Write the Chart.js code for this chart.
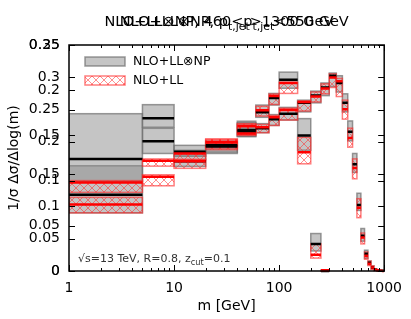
<!DOCTYPE html>
<html>
<head>
<meta charset="utf-8">
<script src="https://cdn.jsdelivr.net/npm/chart.js@4.4.0/dist/chart.umd.min.js"></script>
<style>
  html, body { margin: 0; background: #fff; }
  #wrap { width: 411px; height: 319px; position: relative; }
</style>
</head>
<body>
<div id="wrap"><canvas id="c"></canvas></div>
<script>
// bin edges in m [GeV]
const edgesA = [1, 5, 10, 20, 40, 60, 80, 100, 150, 200, 250, 300];
const edgesB = [1, 5, 10, 20, 40, 60, 80, 100, 150, 200, 250, 300, 350, 400, 450, 500,
                550, 600, 650, 700, 750, 800, 850, 900, 950, 1000];

// 460 < pt,jet < 550 GeV  (left scale 0 - 0.35)
const npA   = [0.118, 0.201, 0.170, 0.193, 0.216, 0.246, 0.268, 0.296, 0.210, 0.042, 0.000];
const npALo = [0.090, 0.182, 0.162, 0.184, 0.208, 0.238, 0.257, 0.283, 0.187, 0.031, 0.000];
const npAHi = [0.163, 0.221, 0.187, 0.201, 0.232, 0.257, 0.275, 0.308, 0.236, 0.058, 0.001];
const llA   = [0.103, 0.146, 0.170, 0.199, 0.213, 0.249, 0.271, 0.291, 0.184, 0.025, 0.001];
const llALo = [0.090, 0.132, 0.159, 0.188, 0.210, 0.240, 0.258, 0.275, 0.166, 0.020, 0.000];
const llAHi = [0.114, 0.149, 0.173, 0.204, 0.227, 0.255, 0.274, 0.292, 0.207, 0.042, 0.001];

// pt,jet > 1300 GeV  (second scale 0 - 0.25)
const npB   = [0.124, 0.169, 0.132, 0.139, 0.156, 0.158, 0.168, 0.174, 0.186, 0.194, 0.203, 0.216, 0.208,
               0.186, 0.154, 0.118, 0.073, 0.039, 0.019, 0.009, 0.004, 0.0015, 0.0008, 0.0004, 0.0002];
const npBLo = [0.099, 0.159, 0.127, 0.130, 0.149, 0.153, 0.161, 0.167, 0.176, 0.186, 0.194, 0.204, 0.198,
               0.176, 0.144, 0.109, 0.067, 0.033, 0.014, 0.007, 0.0022, 0.0005, 0.0002, 0, 0];
const npBHi = [0.174, 0.184, 0.139, 0.142, 0.164, 0.163, 0.173, 0.181, 0.189, 0.199, 0.208, 0.219, 0.216,
               0.196, 0.166, 0.130, 0.086, 0.047, 0.023, 0.011, 0.0056, 0.0025, 0.0012, 0.0006, 0.0003];
const llB   = [0.098, 0.122, 0.130, 0.143, 0.160, 0.159, 0.170, 0.178, 0.187, 0.193, 0.202, 0.214, 0.210,
               0.179, 0.147, 0.114, 0.070, 0.037, 0.017, 0.008, 0.0038, 0.0014, 0.0007, 0.0003, 0.0001];
const llBLo = [0.087, 0.116, 0.123, 0.136, 0.151, 0.153, 0.161, 0.167, 0.177, 0.187, 0.196, 0.203, 0.193,
               0.168, 0.137, 0.102, 0.059, 0.030, 0.013, 0.006, 0.002, 0.0005, 0.0002, 0, 0];
const llBHi = [0.100, 0.124, 0.131, 0.146, 0.163, 0.162, 0.172, 0.180, 0.188, 0.198, 0.207, 0.218, 0.213,
               0.189, 0.158, 0.124, 0.080, 0.042, 0.021, 0.011, 0.0056, 0.0025, 0.0012, 0.0006, 0.0003];

const xLabels = [1, 10, 100, 1000];
const legendNames = ['NLO+LL\u2297NP', 'NLO+LL'];

const FONT = 'DejaVu Sans';
const npFill = 'rgba(140,140,140,0.5)';
const npEdge = 'rgba(110,110,110,0.7)';
const llEdge = 'rgba(255,40,40,0.6)';

function hatchPattern(ctx) {
  const c = document.createElement('canvas');
  c.width = 8; c.height = 8;
  const g = c.getContext('2d');
  g.strokeStyle = 'rgba(255,50,50,0.55)';
  g.lineWidth = 1;
  g.beginPath();
  g.moveTo(0, 0); g.lineTo(8, 8);
  g.moveTo(8, 0); g.lineTo(0, 8);
  g.stroke();
  return ctx.createPattern(c, 'repeat');
}

function boxes(ctx, xs, ys, edges, lo, hi, fill, edge) {
  for (let i = 0; i < edges.length - 1; i++) {
    const x0 = xs.getPixelForValue(edges[i]);
    const x1 = xs.getPixelForValue(edges[i + 1]);
    const y0 = ys.getPixelForValue(hi[i]);
    const y1 = ys.getPixelForValue(lo[i]);
    ctx.fillStyle = fill;
    ctx.fillRect(x0, y0, x1 - x0, y1 - y0);
    ctx.strokeStyle = edge;
    ctx.lineWidth = 1.5;
    ctx.strokeRect(x0, y0, x1 - x0, y1 - y0);
  }
}

function centres(ctx, xs, ys, edges, vals, color) {
  ctx.strokeStyle = color;
  ctx.lineWidth = 2.5;
  ctx.beginPath();
  for (let i = 0; i < edges.length - 1; i++) {
    const py = ys.getPixelForValue(vals[i]);
    ctx.moveTo(xs.getPixelForValue(edges[i]), py);
    ctx.lineTo(xs.getPixelForValue(edges[i + 1]), py);
  }
  ctx.stroke();
}

// text with subscripts, parts = [[text, isSub], ...]
function richText(ctx, parts, x, y, size, align) {
  const widths = parts.map(p => {
    ctx.font = (p[1] ? size * 0.75 : size) + 'px ' + FONT;
    return ctx.measureText(p[0]).width;
  });
  const total = widths.reduce((a, b) => a + b, 0);
  let px = align === 'center' ? x - total / 2 : x;
  ctx.textAlign = 'left';
  ctx.textBaseline = 'alphabetic';
  parts.forEach((p, i) => {
    ctx.font = (p[1] ? size * 0.75 : size) + 'px ' + FONT;
    ctx.fillText(p[0], px, p[1] ? y + size * 0.3 : y);
    px += widths[i];
  });
}

const fmt = v => String(+Number(v).toFixed(2));

const histPlugin = {
  id: 'hist',
  afterDraw(chart) {
    const ctx = chart.ctx;
    const a = chart.chartArea;
    const xs = chart.scales.x, yA = chart.scales.yA, yB = chart.scales.yB;
    const hatch = hatchPattern(ctx);

    ctx.save();
    ctx.beginPath();
    ctx.rect(a.left, a.top, a.right - a.left, a.bottom - a.top + 2);
    ctx.clip();
    boxes(ctx, xs, yA, edgesA, npALo, npAHi, npFill, npEdge);
    boxes(ctx, xs, yB, edgesB, npBLo, npBHi, npFill, npEdge);
    boxes(ctx, xs, yA, edgesA, llALo, llAHi, hatch, llEdge);
    boxes(ctx, xs, yB, edgesB, llBLo, llBHi, hatch, llEdge);
    centres(ctx, xs, yA, edgesA, npA, '#000');
    centres(ctx, xs, yB, edgesB, npB, '#000');
    centres(ctx, xs, yA, edgesA, llA, '#ff0000');
    centres(ctx, xs, yB, edgesB, llB, '#ff0000');
    ctx.restore();

    // frame + inward ticks
    ctx.save();
    ctx.strokeStyle = '#000';
    ctx.lineWidth = 1.5;
    ctx.strokeRect(a.left, a.top, a.right - a.left, a.bottom - a.top);
    ctx.lineWidth = 1;
    ctx.beginPath();
    [yA, yB].forEach(s => s.ticks.forEach(t => {
      const py = Math.round(s.getPixelForValue(t.value)) + 0.5;
      ctx.moveTo(a.left, py); ctx.lineTo(a.left + 6, py);
      ctx.moveTo(a.right, py); ctx.lineTo(a.right - 6, py);
    }));
    for (let d = 1; d <= 1000; d *= 10) {
      for (let k = 1; k <= 9; k++) {
        const v = k * d;
        if (v > 1000) break;
        const px = Math.round(xs.getPixelForValue(v)) + 0.5;
        const len = k === 1 ? 6 : 3;
        ctx.moveTo(px, a.bottom); ctx.lineTo(px, a.bottom - len);
        ctx.moveTo(px, a.top); ctx.lineTo(px, a.top + len);
      }
    }
    ctx.stroke();

    // labels of the second (overlaid) y scale, same place as the first
    ctx.fillStyle = '#000';
    ctx.font = '14px ' + FONT;
    ctx.textAlign = 'right';
    ctx.textBaseline = 'middle';
    yB.ticks.forEach(t => ctx.fillText(fmt(t.value), a.left - 9, yB.getPixelForValue(t.value)));
    ctx.restore();

    // legend
    ctx.save();
    ctx.fillStyle = npFill;
    ctx.fillRect(85, 57, 40, 9);
    ctx.strokeStyle = npEdge; ctx.lineWidth = 1.5;
    ctx.strokeRect(85, 57, 40, 9);
    ctx.fillStyle = hatch;
    ctx.fillRect(85, 76, 40, 9);
    ctx.strokeStyle = llEdge;
    ctx.strokeRect(85, 76, 40, 9);
    ctx.fillStyle = '#000';
    ctx.font = '12.5px ' + FONT;
    ctx.textAlign = 'left';
    ctx.textBaseline = 'middle';
    ctx.fillText(legendNames[0], 133, 62);
    ctx.fillText(legendNames[1], 133, 81);

    // overlaid titles
    const cx = (a.left + a.right) / 2;
    ctx.fillStyle = '#000';
    richText(ctx, [['NLO+LL\u2297NP, 460<p', false], ['t,jet', true], ['<550 GeV', false]], cx, 26, 14.5, 'center');
    richText(ctx, [['NLO+LL\u2297NP, p', false], ['t,jet', true], ['>1300 GeV', false]], cx, 26, 14.5, 'center');

    // annotation
    ctx.fillStyle = '#333';
    richText(ctx, [['\u221As=13 TeV, R=0.8, z', false], ['cut', true], ['=0.1', false]], 78, 262, 11, 'left');
    ctx.restore();
  }
};

const tickFont = { family: FONT, size: 14 };

new Chart(document.getElementById('c'), {
  type: 'scatter',
  data: { datasets: [] },
  options: {
    responsive: true,
    maintainAspectRatio: false,
    animation: false,
    devicePixelRatio: 1,
    layout: { padding: { top: 45, right: 25, left: 0, bottom: 0 } },
    plugins: { legend: { display: false }, title: { display: false }, tooltip: { enabled: false } },
    scales: {
      x: {
        type: 'logarithmic',
        min: 1,
        max: 1000,
        afterBuildTicks: s => { s.ticks = xLabels.map(v => ({ value: v, major: true })); },
        afterFit: s => { s.height = 48; },
        grid: { display: false, drawTicks: false },
        border: { display: false },
        ticks: { padding: 9, color: '#000', font: tickFont, maxRotation: 0, autoSkip: false, callback: v => String(v) },
        title: { display: true, text: 'm [GeV]', color: '#000', font: tickFont, padding: { top: 4, bottom: 4 } }
      },
      yA: {
        position: 'left',
        min: 0,
        max: 0.35,
        afterFit: s => { s.width = 69; },
        grid: { display: false, drawTicks: false },
        border: { display: false },
        ticks: { stepSize: 0.05, padding: 9, color: '#000', font: tickFont, callback: fmt },
        title: { display: true, text: '1/\u03C3 \u0394\u03C3/\u0394log(m)', color: '#000', font: tickFont, padding: { top: 6, bottom: 4 } }
      },
      yB: {
        position: 'left',
        min: 0,
        max: 0.25,
        afterFit: s => { s.width = 0; },
        grid: { display: false, drawTicks: false },
        border: { display: false },
        ticks: { stepSize: 0.05, display: false }
      }
    }
  },
  plugins: [histPlugin]
});
</script>
</body>
</html>
